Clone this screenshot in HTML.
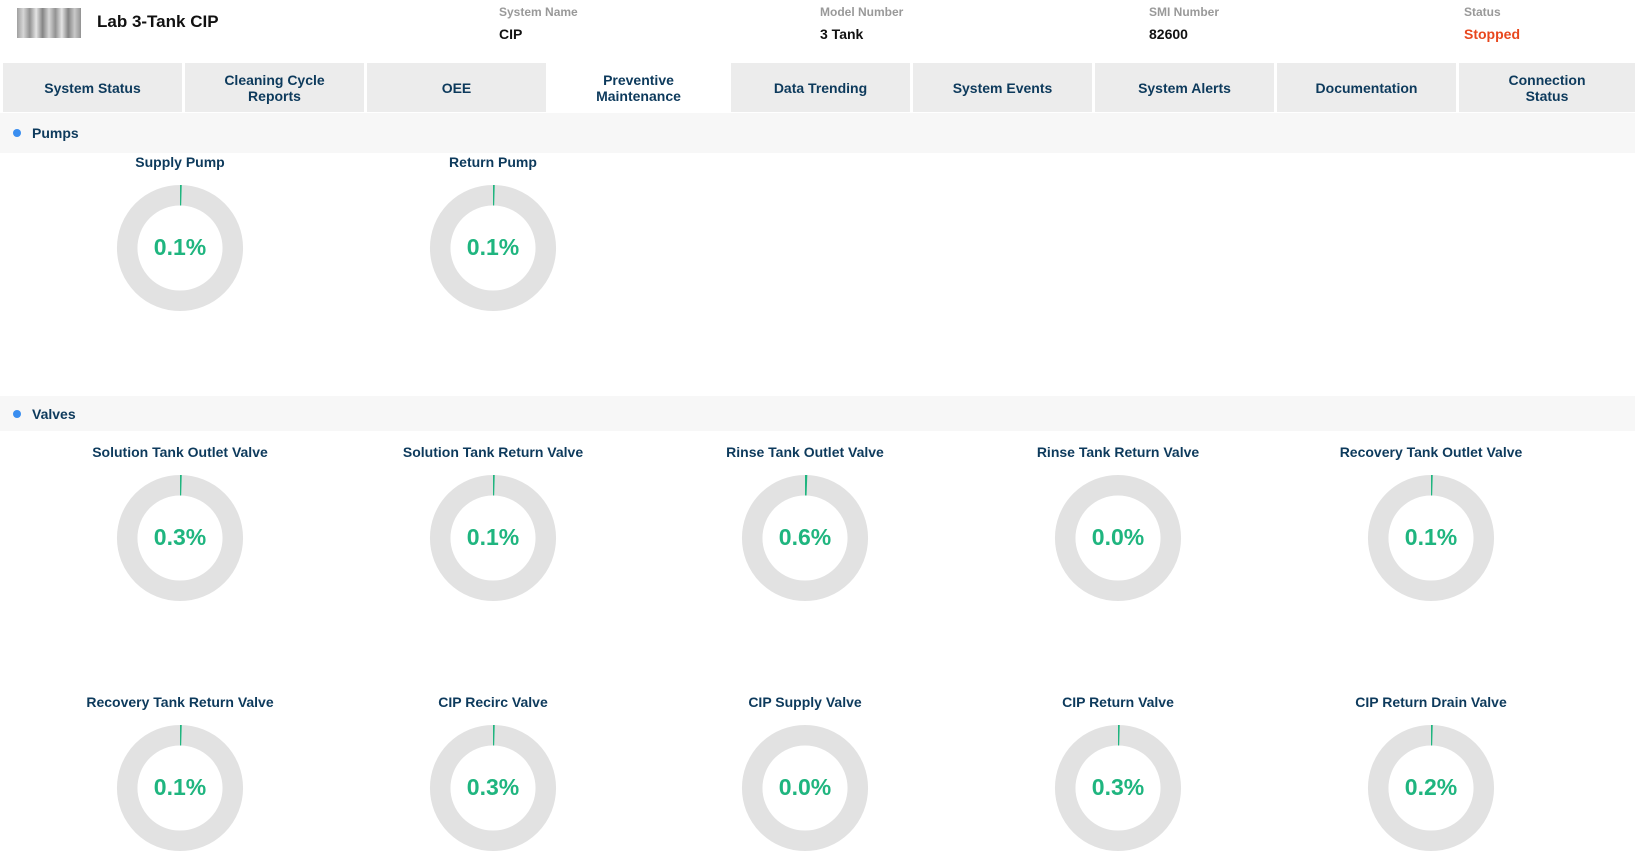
<!DOCTYPE html>
<html><head><meta charset="utf-8"><style>
*{margin:0;padding:0;box-sizing:border-box}
body{width:1635px;height:848px;overflow:hidden;background:#fff;font-family:"Liberation Sans",Arial,sans-serif;position:relative}
.abs{position:absolute}
.lbl{font-size:12px;color:#999;font-weight:bold}
.val{font-size:14px;color:#111;font-weight:bold}
.tab{position:absolute;top:63px;height:49px;width:179px;background:#ececec;color:#0d3a5c;font-weight:bold;font-size:14px;display:flex;align-items:center;justify-content:center;text-align:center;line-height:16px}
.band{position:absolute;left:0;width:1635px;background:#f7f7f7}
.dot{position:absolute;width:8px;height:8px;border-radius:50%;background:#3a8ef0}
.st{position:absolute;font-size:14px;font-weight:bold;color:#0d3a5c}
.g{position:absolute;width:260px;margin-left:-130px;text-align:center}
.g .t{font-size:14px;font-weight:bold;color:#0d3a5c;height:16px;line-height:16px}
.g svg{position:absolute;left:66px}
.g .p{position:absolute;left:0;width:260px;text-align:center;font-size:23px;font-weight:bold;color:#1fb57f}
</style></head><body>
<div class="abs" style="left:17px;top:8px;width:64px;height:30px;background:linear-gradient(90deg,#888 0,#ccc 10%,#777 20%,#ddd 30%,#666 40%,#ccc 50%,#777 60%,#ddd 70%,#666 80%,#bbb 90%,#777 100%);opacity:.8"></div>
<div class="abs" style="left:97px;top:12px;font-size:17px;color:#111;font-weight:bold">Lab 3-Tank CIP</div>
<div class="abs lbl" style="left:499px;top:5px">System Name</div><div class="abs val" style="left:499px;top:26px">CIP</div>
<div class="abs lbl" style="left:820px;top:5px">Model Number</div><div class="abs val" style="left:820px;top:26px">3 Tank</div>
<div class="abs lbl" style="left:1149px;top:5px">SMI Number</div><div class="abs val" style="left:1149px;top:26px">82600</div>
<div class="abs lbl" style="left:1464px;top:5px">Status</div><div class="abs val" style="left:1464px;top:26px;color:#e8471d">Stopped</div>

<div class="tab" style="left:3px">System Status</div>
<div class="tab" style="left:185px">Cleaning Cycle<br>Reports</div>
<div class="tab" style="left:367px">OEE</div>
<div class="tab" style="left:549px;background:#fff">Preventive<br>Maintenance</div>
<div class="tab" style="left:731px">Data Trending</div>
<div class="tab" style="left:913px">System Events</div>
<div class="tab" style="left:1095px">System Alerts</div>
<div class="tab" style="left:1277px">Documentation</div>
<div class="tab" style="left:1459px;width:176px">Connection<br>Status</div>

<div class="band" style="top:113px;height:40px"></div>
<div class="dot" style="left:13px;top:129px"></div><div class="st" style="left:32px;top:125px">Pumps</div>
<div class="band" style="top:396px;height:35px"></div>
<div class="dot" style="left:13px;top:410px"></div><div class="st" style="left:32px;top:406px">Valves</div>

<div id="gs"></div>
<script>
var items=[[180,162,"Supply Pump",0.1],[493,162,"Return Pump",0.1],
[180,452,"Solution Tank Outlet Valve",0.3],[493,452,"Solution Tank Return Valve",0.1],[805,452,"Rinse Tank Outlet Valve",0.6],[1118,452,"Rinse Tank Return Valve",0.0],[1431,452,"Recovery Tank Outlet Valve",0.1],
[180,702,"Recovery Tank Return Valve",0.1],[493,702,"CIP Recirc Valve",0.3],[805,702,"CIP Supply Valve",0.0],[1118,702,"CIP Return Valve",0.3],[1431,702,"CIP Return Drain Valve",0.2]];
var h="";var C=2*Math.PI*52.8;var S=30;
items.forEach(function(it){var v=it[3];var len=Math.max(v/100*C,v>0?1.5:0);
h+='<div class="g" style="left:'+it[0]+'px;top:'+(it[1]-8)+'px"><div class="t">'+it[2]+'</div>'+
'<svg width="128" height="128" style="top:'+S+'px" viewBox="0 0 128 128"><circle cx="64" cy="64" r="52.8" fill="none" stroke="#e2e2e2" stroke-width="20.5"/>'+
(len>0?'<circle cx="64" cy="64" r="52.8" fill="none" stroke="#1fb57f" stroke-width="20.5" stroke-dasharray="'+len+' '+C+'" transform="rotate(-90 64 64)"/>':'')+
'</svg>'+
'<div class="p" style="top:'+(S+64-14)+'px">'+v.toFixed(1)+'%</div></div>';});
document.getElementById("gs").innerHTML=h;
</script>
</body></html>
